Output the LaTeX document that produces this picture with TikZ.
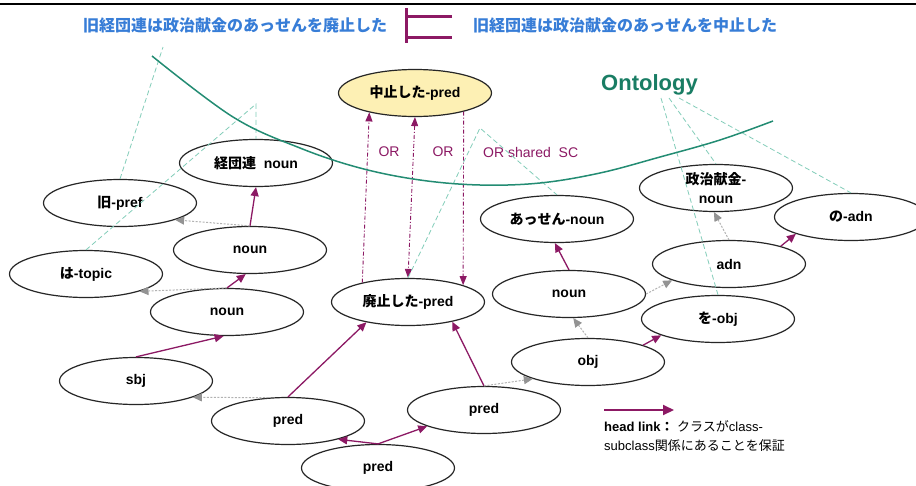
\documentclass[tikz,border=0pt]{standalone}
\usepackage{fontspec}
\setmainfont{Liberation Sans}
\newfontfamily\cjk{Noto Sans CJK JP}
\usetikzlibrary{shapes.geometric,arrows.meta}
\definecolor{hpurple}{RGB}{140,25,100}
\definecolor{tblue}{RGB}{55,125,215}
\definecolor{oteal}{RGB}{25,125,100}
\definecolor{cteal}{RGB}{35,140,115}
\definecolor{lteal}{RGB}{130,205,185}
\definecolor{cream}{RGB}{253,240,180}
\newcommand\jp[1]{{\cjk #1}}
\begin{document}
\begin{tikzpicture}[x=1pt,y=1pt,
  el/.style={ellipse, draw=black!85, line width=1.2pt, fill=white, minimum width=153pt, minimum height=47pt, inner sep=0pt, font=\fontsize{14}{16}\selectfont\bfseries, align=center},
  headlink/.style={draw=hpurple, line width=1.3pt, -{Triangle[length=9pt,width=8pt,fill=hpurple]}},
  deplink/.style={draw=gray!60, line width=1pt, dash pattern=on 2pt off 1.5pt, -{Triangle[length=9pt,width=8pt,fill=gray!85,color=gray!85]}},
  orlink/.style={draw=hpurple, line width=0.9pt, dash pattern=on 4pt off 2pt on 1pt off 2pt},
  ortip/.style={-{Triangle[length=9pt,width=7pt,fill=hpurple]}},
  ontlink/.style={draw=lteal, line width=0.8pt, dash pattern=on 5pt off 3pt},
  lbl/.style={text=hpurple, font=\fontsize{14}{16}\selectfont, inner sep=0pt},
]
\useasboundingbox (0,0) rectangle (916,-485);
\clip (0,0) rectangle (916,-485);
\fill[white] (0,0) rectangle (916,-485);
\draw[line width=2.5pt] (0,-4) -- (916,-4);

% header
\node[anchor=west, inner sep=0pt, text=tblue, font=\fontsize{16}{18}\selectfont\bfseries] (s1) at (83,-25) {\jp{旧経団連は政治献金のあっせんを廃止した}};
\node[anchor=west, inner sep=0pt, text=tblue, font=\fontsize{16}{18}\selectfont\bfseries] (s2) at (473,-25) {\jp{旧経団連は政治献金のあっせんを中止した}};
\draw[hpurple, line width=3pt] (452,-16) -- (406,-16) (406,-8) -- (406,-43) (406,-37) -- (452,-37);

% nodes
\node[el, fill=cream] (zhong) at (415,-93) {\jp{中止した}-pred};
\node[el] (keidan) at (256,-163) {\jp{経団連}\ \ noun};
\node[el] (kyu) at (120,-203) {\jp{旧}-pref};
\node[el] (nounA) at (250,-250) {noun};
\node[el] (ha) at (86,-274) {\jp{は}-topic};
\node[el] (nounB) at (227,-312) {noun};
\node[el] (sbj) at (136,-381) {sbj};
\node[el] (predL) at (288,-421) {pred};
\node[el] (predB) at (378,-468) {pred};
\node[el] (haishi) at (408,-302) {\jp{廃止した}-pred};
\node[el] (predR) at (484,-410) {pred};
\node[el] (obj) at (588,-362) {obj};
\node[el] (nounC) at (569,-294) {noun};
\node[el] (assen) at (557,-219) {\jp{あっせん}-noun};
\node[el] (seiji) at (716,-188) {\jp{政治献金}-\\[3pt]noun};
\node[el] (no) at (851,-217) {\jp{の}-adn};
\node[el] (adn) at (729,-264) {adn};
\node[el] (wo) at (718,-319) {\jp{を}-obj};

% head links
\draw[headlink] (nounA.north) -- (keidan.south);
\draw[headlink] (nounB.north) -- (nounA.-100);
\draw[headlink] (sbj.north) -- (nounB.-98);
\draw[headlink] (predL.north) -- (haishi.206);
\draw[headlink] (predB.north) -- (predL.-20);
\draw[headlink] (predB.north) -- (predR.196);
\draw[headlink] (predR.north) -- (haishi.-24);
\draw[headlink] (nounC.north) -- (assen.-95);
\draw[headlink] (obj.17) -- (wo.196);
\draw[headlink] (adn.19) -- (no.197);

% dependency links
\draw[deplink] (nounA.north) -- (kyu.-17);
\draw[deplink] (nounB.north) -- (ha.-18);
\draw[deplink] (predL.130) -- (sbj.-16);
\draw[deplink] (predR.north) -- (obj.197);
\draw[deplink] (obj.north) -- (nounC.-80);
\draw[deplink] (nounC.east) -- (adn.196);
\draw[deplink] (adn.north) -- (seiji.-95);

% OR links
\draw[orlink, ortip] (haishi.157) -- (zhong.203);
\draw[orlink, {Triangle[length=9pt,width=7pt,fill=hpurple]}-{Triangle[length=9pt,width=7pt,fill=hpurple]}] (zhong.south) -- (haishi.north);
\draw[orlink, ortip] (zhong.-21) -- (haishi.17);
\node[lbl] (or1) at (389,-152) {OR};
\node[lbl] (or2) at (443,-152) {OR};
\node[lbl, anchor=west] (or3) at (483,-152) {OR shared\ \ SC};

% ontology
\node[anchor=west, inner sep=0pt, text=oteal, font=\fontsize{22}{24}\selectfont\bfseries] (onto) at (601,-85) {Ontology};
\coordinate (p1) at (163,-47);
\coordinate (p2) at (256,-104);
\coordinate (p3) at (480,-128);
\coordinate (o1) at (661,-98);
\coordinate (o2) at (669,-98);
\coordinate (o3) at (679,-98);
\draw[ontlink] (kyu.north) -- (p1);
\draw[ontlink] (ha.north) -- (p2) -- (keidan.north);
\draw[ontlink] (haishi.north) -- (p3) -- (assen.north);
\draw[ontlink] (o1) -- (wo.north);
\draw[ontlink] (o2) -- (seiji.north);
\draw[ontlink] (o3) -- (no.north);
\draw[cteal, line width=1.5pt] plot[smooth, tension=0.6] coordinates {(152,-56) (233,-117) (300,-148) (360,-168) (420,-180) (480,-185) (540,-183) (600,-173) (660,-157) (720,-140) (773,-121)};

% legend
\coordinate (lg1) at (604,-410);
\coordinate (lg2) at (674,-410);
\draw[draw=hpurple, line width=2pt, -{Triangle[length=11pt,width=10pt,fill=hpurple]}] (lg1) -- (lg2);
\node[anchor=north west, inner sep=0pt, align=left, font=\fontsize{13}{19}\selectfont] (lgt) at (604,-420) {{\bfseries head link\jp{：}}\ \jp{クラスが}class-\\subclass\jp{関係にあることを保証}};
\end{tikzpicture}
\end{document}
